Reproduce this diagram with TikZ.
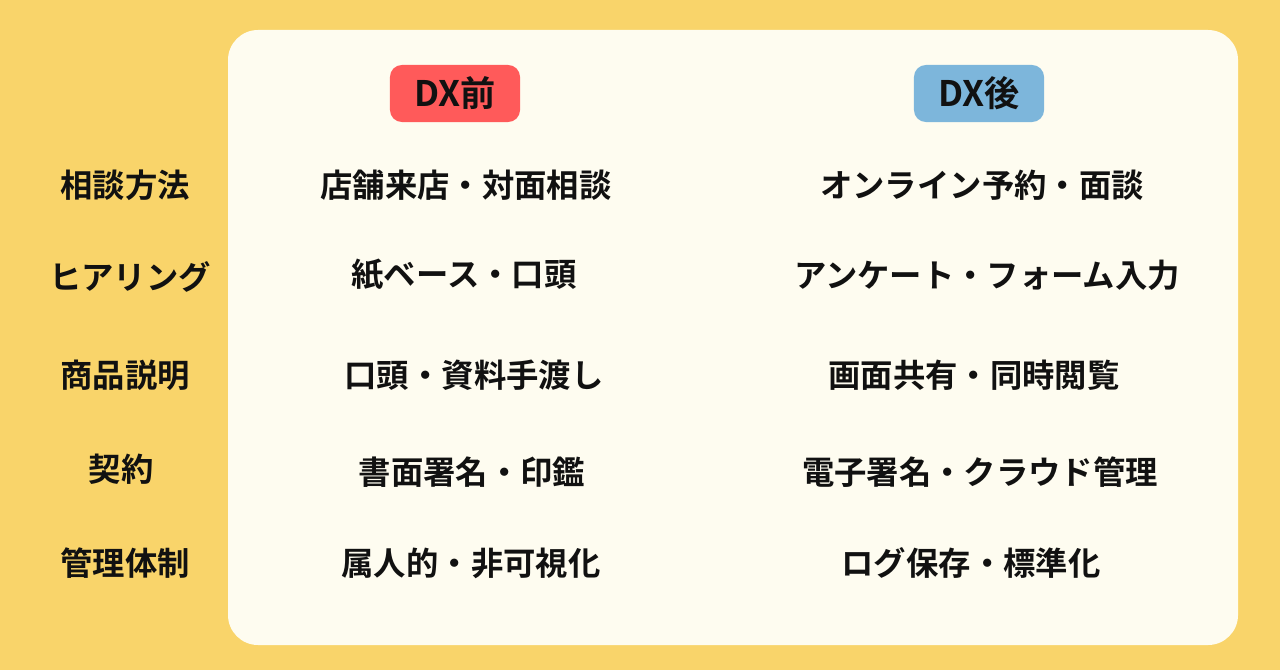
\documentclass[tikz,border=0pt]{standalone}
\usepackage{fontspec}
\newfontfamily\jp{Noto Sans CJK JP Bold}
\definecolor{bg}{HTML}{F9D46A}
\definecolor{panel}{HTML}{FEFCF0}
\definecolor{redb}{HTML}{FF5A5A}
\definecolor{blueb}{HTML}{7DB6DB}
\definecolor{txt}{HTML}{111111}
\begin{document}
\begin{tikzpicture}[x=0.01cm,y=-0.01cm,
  cell/.style={font=\jp\fontsize{9.2pt}{11pt}\selectfont, text=txt, anchor=center, inner sep=0pt},
  badge/.style={font=\jp\fontsize{10pt}{12pt}\selectfont, text=txt, rounded corners=0.12cm, minimum width=1.3cm, minimum height=0.57cm, inner sep=0pt}]
\fill[bg] (0,0) rectangle (1280,670);
\useasboundingbox (0,0) rectangle (1280,670);
\fill[panel, rounded corners=0.3cm] (228,30) rectangle (1238,645);
\node[badge, fill=redb] (b1) at (455,93.5) {DX前};
\node[badge, fill=blueb] (b2) at (979,93.5) {DX後};
\node[cell] (l1) at (125,185) {相談方法};
\node[cell] (l2) at (130,277) {ヒアリング};
\node[cell] (l3) at (125,375) {商品説明};
\node[cell] (l4) at (121,469) {契約};
\node[cell] (l5) at (125,563) {管理体制};
\node[cell] (a1) at (466,185) {店舗来店・対面相談};
\node[cell] (a2) at (464,275) {紙ベース・口頭};
\node[cell] (a3) at (474,375) {口頭・資料手渡し};
\node[cell] (a4) at (472,472) {書面署名・印鑑};
\node[cell] (a5) at (471,563) {属人的・非可視化};
\node[cell] (c1) at (982,185) {オンライン予約・面談};
\node[cell] (c2) at (987,275) {アンケート・フォーム入力};
\node[cell] (c3) at (974,375) {画面共有・同時閲覧};
\node[cell] (c4) at (980,472) {電子署名・クラウド管理};
\node[cell] (c5) at (971,563) {ログ保存・標準化};
\end{tikzpicture}
\end{document}
